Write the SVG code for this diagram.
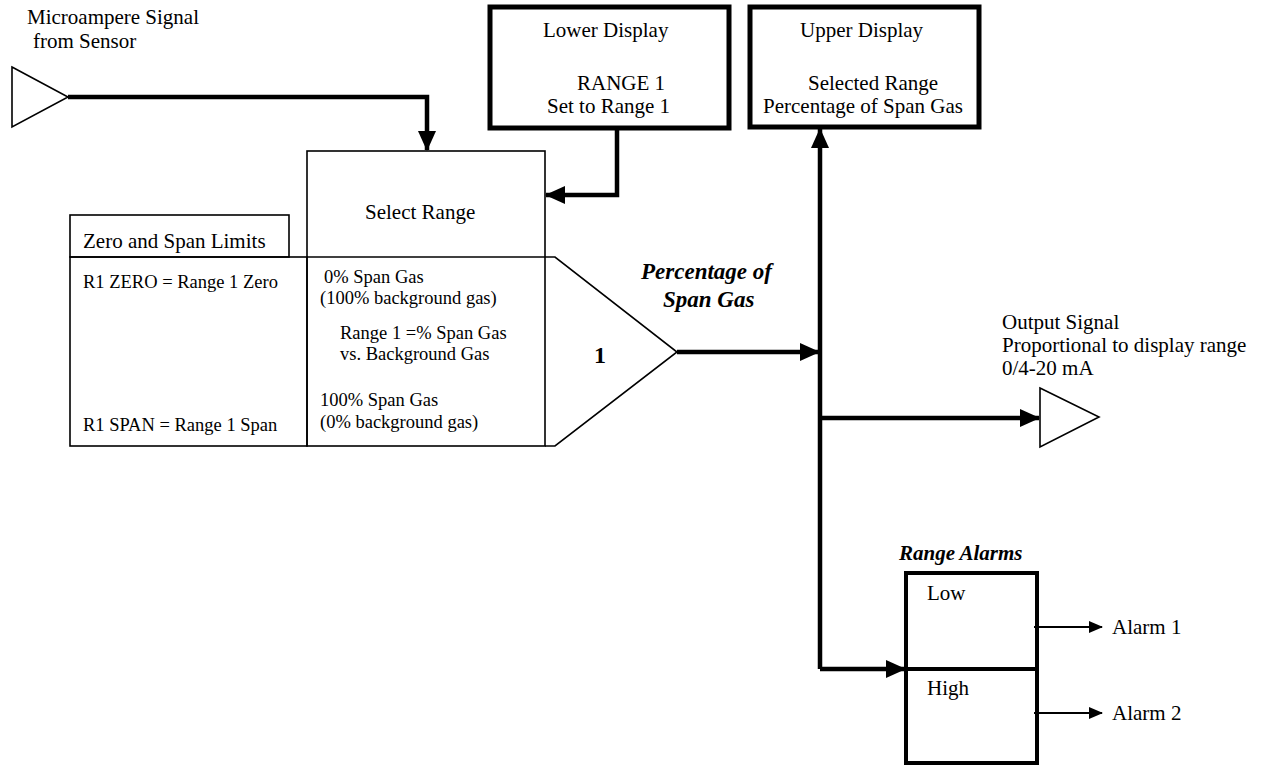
<svg xmlns="http://www.w3.org/2000/svg" width="1263" height="765" viewBox="0 0 1263 765">
<defs>
<style>
text{font-family:"Liberation Serif","Times New Roman",serif;fill:#000;font-size:21px}
.s{font-size:18.5px}
.bi{font-weight:bold;font-style:italic}
.thin{fill:none;stroke:#000;stroke-width:1.6}
.thick{fill:none;stroke:#000;stroke-width:4}
.box{fill:#fff;stroke:#000;stroke-width:5}
.tri{fill:#fff;stroke:#000;stroke-width:1.6}
.ln{fill:none;stroke:#000;stroke-width:4.5}
.lt{fill:none;stroke:#000;stroke-width:2}
</style>
<marker id="ah" markerUnits="userSpaceOnUse" markerWidth="20" markerHeight="20" refX="19" refY="10" orient="auto" viewBox="0 0 20 20">
<path d="M0,1 L20,10 L0,19 Z" fill="#000"/>
</marker>
<marker id="as" markerUnits="userSpaceOnUse" markerWidth="14" markerHeight="12" refX="13" refY="6" orient="auto" viewBox="0 0 14 12">
<path d="M0,0 L14,6 L0,12 Z" fill="#000"/>
</marker>
</defs>
<rect width="1263" height="765" fill="#fff"/>

<g id="connectors">
<path class="ln" d="M68,97 H427 V150" marker-end="url(#ah)"/>
<path class="ln" d="M617,128 V195 H546" marker-end="url(#ah)"/>
<path class="ln" d="M677,352 H819" marker-end="url(#ah)"/>
<path class="ln" d="M820,669 V129" marker-end="url(#ah)"/>
<path class="ln" d="M820,418 H1039" marker-end="url(#ah)"/>
<path class="ln" d="M820,669 H905" marker-end="url(#ah)"/>
<path class="lt" d="M1034,627 H1102" marker-end="url(#as)"/>
<path class="lt" d="M1034,713 H1102" marker-end="url(#as)"/>
</g>

<g id="sensor-input">
<polygon class="tri" points="12,67 68,97 12,127"/>
<text x="27" y="24">Microampere Signal</text>
<text x="33" y="48">from Sensor</text>
</g>

<g id="lower-display">
<rect class="box" x="490" y="7" width="239" height="121"/>
<text x="543" y="37">Lower Display</text>
<text x="577" y="90">RANGE 1</text>
<text x="547" y="113">Set to Range 1</text>
</g>

<g id="upper-display">
<rect class="box" x="750" y="7" width="229" height="120"/>
<text x="800" y="37">Upper Display</text>
<text x="808" y="90">Selected Range</text>
<text x="763" y="113">Percentage of Span Gas</text>
</g>

<g id="zero-span-limits">
<rect class="thin" x="70" y="215" width="219" height="42"/>
<text x="83" y="248">Zero and Span Limits</text>
<rect class="thin" x="70" y="257" width="237" height="189"/>
<text class="s" x="83" y="288">R1 ZERO = Range 1 Zero</text>
<text class="s" x="83" y="431">R1 SPAN = Range 1 Span</text>
</g>

<g id="select-range">
<rect class="thin" x="307" y="151" width="238" height="295"/>
<line class="thin" x1="307" y1="257" x2="545" y2="257"/>
<text x="365" y="219">Select Range</text>
<text class="s" x="324" y="283">0% Span Gas</text>
<text class="s" x="320" y="304">(100% background gas)</text>
<text class="s" x="340" y="339">Range 1 =% Span Gas</text>
<text class="s" x="340" y="360">vs. Background Gas</text>
<text class="s" x="320" y="406">100% Span Gas</text>
<text class="s" x="320" y="428">(0% background gas)</text>
</g>

<g id="range-1">
<polyline class="thin" points="545,257 555,257 677,352 555,446 545,446"/>
<text x="594" y="363" style="font-weight:bold;font-size:24px">1</text>
</g>

<g id="percentage-label">
<text class="bi" x="641" y="279" style="font-size:23px">Percentage of</text>
<text class="bi" x="663" y="307" style="font-size:23px">Span Gas</text>
</g>

<g id="output-signal">
<polygon class="tri" points="1040,388 1099,417 1040,447"/>
<text x="1002" y="329">Output Signal</text>
<text x="1002" y="352">Proportional to display range</text>
<text x="1002" y="375">0/4-20 mA</text>
</g>

<g id="range-alarms">
<text class="bi" x="899" y="560">Range Alarms</text>
<rect class="thick" x="906" y="573" width="131" height="190"/>
<line class="thick" x1="906" y1="669" x2="1037" y2="669"/>
<text x="927" y="600">Low</text>
<text x="927" y="695">High</text>
<text x="1112" y="634">Alarm 1</text>
<text x="1112" y="720">Alarm 2</text>
</g>
</svg>
